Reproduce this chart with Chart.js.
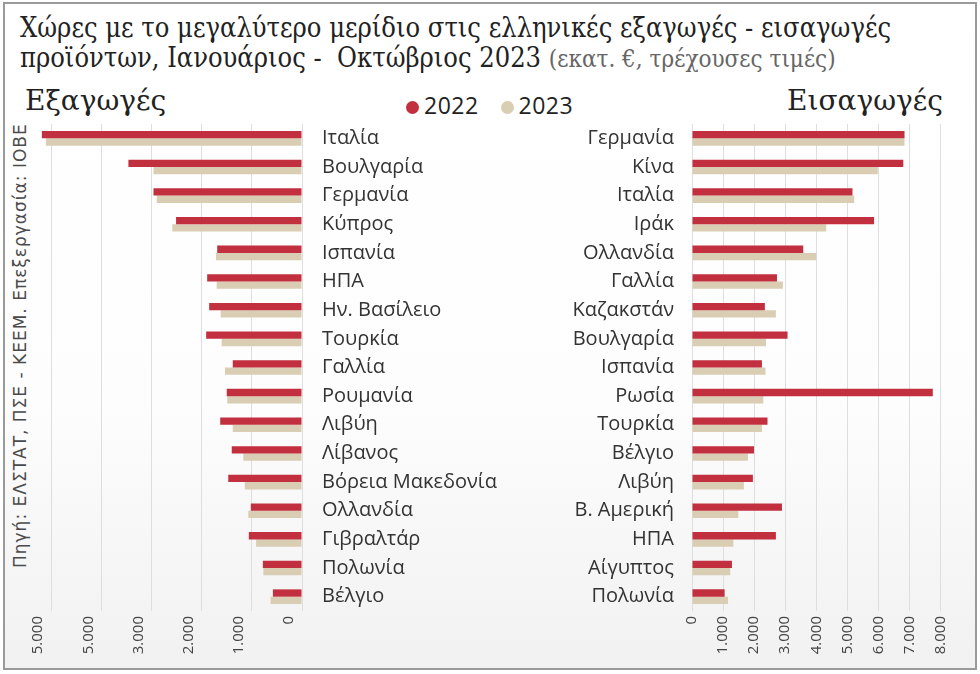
<!DOCTYPE html>
<html>
<head>
<meta charset="utf-8">
<script src="https://cdn.jsdelivr.net/npm/chart.js@4"></script>
<style>
  body { margin: 0; width: 980px; height: 674px; background: #fff; overflow: hidden; }
  #frame { position: absolute; left: 3px; top: 2px; width: 970px; height: 664px; border: 2px solid #9a9a9a;
    background: linear-gradient(#ffffff 0%, #fdfdfd 60%, #f1f1f1 100%); }
  #title { position: absolute; left: 20px; top: 13px; font-family: "DejaVu Serif Condensed", "DejaVu Serif"; font-size: 27px;
    line-height: 30px; color: #222; white-space: nowrap; }
  #title span { color: #666; font-size: 24px; font-weight: 300; }
  .side { position: absolute; top: 84px; font-family: "DejaVu Serif"; font-size: 28px; color: #222; }
  #legend { position: absolute; left: 406px; top: 89px; font-family: "Open Sans"; font-size: 23px; letter-spacing: 0.5px; color: #222; }
  #legend i { display: inline-block; width: 13px; height: 13px; border-radius: 50%; margin: 0 5px 0 0; }
  #source { position: absolute; left: 10px; top: 568px; transform-origin: 0 0; transform: rotate(-90deg);
    font-family: "DejaVu Sans"; font-size: 17px; letter-spacing: 1px; color: #4a4a4a; white-space: nowrap; }
  canvas { position: absolute; }
</style>
</head>
<body>
<div id="frame"></div>
<div id="title">Χώρες με το μεγαλύτερο μερίδιο στις ελληνικές εξαγωγές - εισαγωγές<br>προϊόντων, Ιανουάριος -&nbsp; Οκτώβριος 2023 <span>(εκατ. €, τρέχουσες τιμές)</span></div>
<div class="side" style="left:25px">Εξαγωγές</div>
<div class="side" style="right:37px">Εισαγωγές</div>
<div id="legend"><i style="background:#c22f3e"></i>2022 &nbsp;<i style="background:#d9cdb3;margin-left:9px"></i>2023</div>
<div id="source">Πηγή: ΕΛΣΤΑΤ, ΠΣΕ - ΚΕΕΜ. Επεξεργασία: ΙΟΒΕ</div>
<div style="position:absolute;left:0;top:120px;width:502px;height:550px"><canvas id="expChart"></canvas></div>
<div style="position:absolute;left:480px;top:120px;width:500px;height:550px"><canvas id="impChart"></canvas></div>
<script>
const exportCountries = ["Ιταλία", "Βουλγαρία", "Γερμανία", "Κύπρος", "Ισπανία", "ΗΠΑ", "Ην. Βασίλειο", "Τουρκία", "Γαλλία",
  "Ρουμανία", "Λιβύη", "Λίβανος", "Βόρεια Μακεδονία", "Ολλανδία", "Γιβραλτάρ", "Πολωνία", "Βέλγιο"];
const exports2022 = [5185, 3460, 2960, 2510, 1690, 1890, 1850, 1910, 1380, 1500, 1630, 1400, 1470, 1020, 1060, 780, 580];
const exports2023 = [5105, 2960, 2895, 2585, 1715, 1700, 1620, 1600, 1535, 1490, 1380, 1170, 1140, 1070, 915, 770, 625];
// tick values and labels as printed (the 4.000 tick reads 5.000 in the original)
const exportTickValues = [0, 1000, 2000, 3000, 4000, 5000];
const exportTicks = ["0", "1.000", "2.000", "3.000", "5.000", "5.000"];

const importCountries = ["Γερμανία", "Κίνα", "Ιταλία", "Ιράκ", "Ολλανδία", "Γαλλία", "Καζακστάν", "Βουλγαρία", "Ισπανία",
  "Ρωσία", "Τουρκία", "Βέλγιο", "Λιβύη", "Β. Αμερική", "ΗΠΑ", "Αίγυπτος", "Πολωνία"];
const imports2022 = [6840, 6800, 5165, 5860, 3580, 2735, 2345, 3075, 2250, 7750, 2430, 1995, 1960, 2895, 2700, 1285, 1050];
const imports2023 = [6840, 5980, 5220, 4320, 4000, 2925, 2700, 2380, 2365, 2295, 2250, 1800, 1670, 1490, 1330, 1230, 1160];
const importTickValues = [0, 1000, 2000, 3000, 4000, 5000, 6000, 7000, 8000];
const importTicks = ["0", "1.000", "2.000", "3.000", "4.000", "5.000", "6.000", "7.000", "8.000"];

const red = "#c22f3e";
const beige = "#d9cdb3";

function makeChart(id, labels, d22, d23, tickValues, tickLabels, side) {
  const left = side === "left";
  return new Chart(document.getElementById(id).getContext("2d"), {
    type: "bar",
    data: {
      labels: labels,
      datasets: [
        { label: "2022", data: d22, backgroundColor: red },
        { label: "2023", data: d23, backgroundColor: beige }
      ]
    },
    options: {
      indexAxis: "y",
      responsive: true,
      maintainAspectRatio: false,
      animation: false,
      datasets: { bar: { barPercentage: 1, categoryPercentage: 0.51 } },
      layout: { padding: left ? { left: 11, top: 4 } : { right: 27, top: 4 } },
      plugins: { legend: { display: false }, tooltip: { enabled: false } },
      scales: {
        x: {
          min: 0,
          max: left ? 5800 : 8400,
          reverse: left,
          grid: { color: "#dedede", drawTicks: false },
          border: { display: false },
          afterBuildTicks: s => { s.ticks = tickValues.map(v => ({ value: v })); },
          afterFit: s => { s.height = 59; },
          ticks: {
            autoSkip: false,
            minRotation: 90,
            maxRotation: 90,
            padding: 5,
            labelOffset: left ? -13 : 0,
            color: "#444",
            font: { family: "Open Sans", size: 15 },
            callback: (v, i) => tickLabels[i]
          }
        },
        y: {
          position: left ? "right" : "left",
          grid: { display: false, drawTicks: false },
          border: { display: false },
          afterFit: s => { s.width = left ? 200 : 212; s.paddingTop = 0; s.paddingBottom = 0; },
          ticks: {
            padding: left ? 20 : 18,
            color: "#333",
            font: { family: "Open Sans", size: 20 }
          }
        }
      }
    }
  });
}

makeChart("expChart", exportCountries, exports2022, exports2023, exportTickValues, exportTicks, "left");
makeChart("impChart", importCountries, imports2022, imports2023, importTickValues, importTicks, "right");
</script>
</body>
</html>
